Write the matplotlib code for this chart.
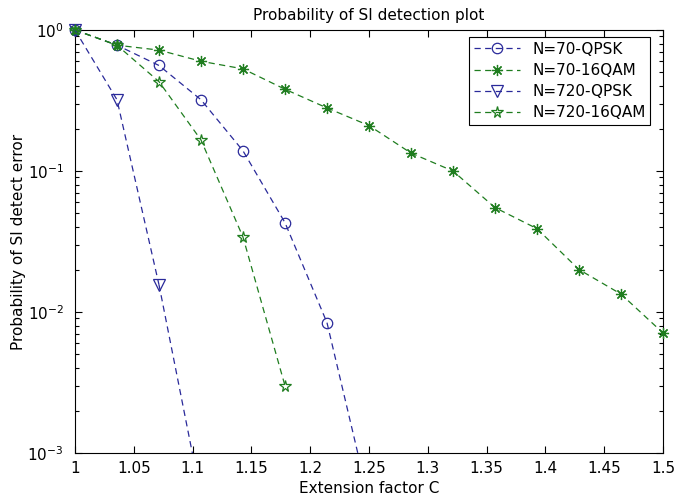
import numpy as np
import matplotlib.pyplot as plt
from matplotlib.ticker import FixedLocator, LogLocator, NullFormatter

# extension factor C, step 0.5/14
c_vals = np.linspace(1.0, 1.5, 15)

p_n70_qpsk = [1.0, 0.78, 0.56, 0.32, 0.139, 0.043, 0.0084, 0.00046]
p_n70_16qam = [1.0, 0.78, 0.72, 0.60, 0.53, 0.38, 0.28, 0.21, 0.134, 0.10,
               0.055, 0.039, 0.020, 0.0134, 0.0071]
p_n720_qpsk = [1.0, 0.32, 0.0156, 0.00049]
p_n720_16qam = [1.0, 0.78, 0.43, 0.166, 0.034, 0.0030]

labels = ['N=70-QPSK', 'N=70-16QAM', 'N=720-QPSK', 'N=720-16QAM']

BLUE = '#2a2a9a'
GREEN = '#1f7d1f'
YMIN = 1e-3
DASH = (0, (5, 3.5))

plt.rcParams['font.family'] = ['DejaVu Sans']
plt.rcParams['font.size'] = 11

fig = plt.figure(figsize=(6.75, 5.03), dpi=100)
ax = fig.add_axes([0.1111, 0.0994, 0.8711, 0.841])

styles = [
    dict(color=BLUE, marker='o', ms=7.5, mfc='none'),
    dict(color=GREEN, marker=(8, 2, 0), ms=8),
    dict(color=BLUE, marker='v', ms=8, mfc='none'),
    dict(color=GREEN, marker='*', ms=8.5, mfc='none'),
]
series = [p_n70_qpsk, p_n70_16qam, p_n720_qpsk, p_n720_16qam]

for vals, lab, st in zip(series, labels, styles):
    vals = np.array(vals)
    x = c_vals[:len(vals)]
    keep = vals >= YMIN
    # visible points: markers drawn unclipped, like MATLAB
    ax.plot(x[keep], vals[keep], linestyle=DASH, lw=0.9,
            mew=0.9, label=lab, clip_on=False, zorder=3, **st)
    # segment running off the bottom of the axes
    if not keep.all():
        i = np.argmin(keep)
        ax.plot(x[i - 1:i + 1], vals[i - 1:i + 1], linestyle=DASH,
                lw=0.9, color=st['color'], zorder=3)

ax.set_yscale('log')
ax.set_xlim(1.0, 1.5)
ax.set_ylim(YMIN, 1.0)
ax.set_xticks(np.arange(1.0, 1.501, 0.05))
ax.set_xticklabels(['1', '1.05', '1.1', '1.15', '1.2', '1.25', '1.3',
                    '1.35', '1.4', '1.45', '1.5'])
ax.yaxis.set_major_locator(FixedLocator([1e-3, 1e-2, 1e-1, 1e0]))
ax.yaxis.set_minor_locator(LogLocator(base=10, subs=np.arange(2, 10)))
ax.yaxis.set_minor_formatter(NullFormatter())

ax.tick_params(which='both', direction='in', top=True, right=True,
               labelsize=11)
ax.tick_params(axis='x', pad=5.5)
ax.tick_params(axis='y', pad=8)
ax.tick_params(which='major', length=5, width=0.8)
ax.tick_params(which='minor', length=3, width=0.8)
for sp in ax.spines.values():
    sp.set_linewidth(0.8)

ax.set_title('Probability of SI detection plot', fontsize=11, pad=7)
ax.set_xlabel('Extension factor C', fontsize=11, labelpad=4)
ax.set_ylabel('Probability of SI detect error', fontsize=11, labelpad=1)

leg = ax.legend(loc='upper right', bbox_to_anchor=(0.978, 0.983),
                borderaxespad=0, fontsize=11, fancybox=False,
                framealpha=1, edgecolor='black', handlelength=3.0,
                handletextpad=0.8, borderpad=0.3, labelspacing=0.4)
leg.get_frame().set_linewidth(0.8)

fig.savefig('out.png', dpi=100)
